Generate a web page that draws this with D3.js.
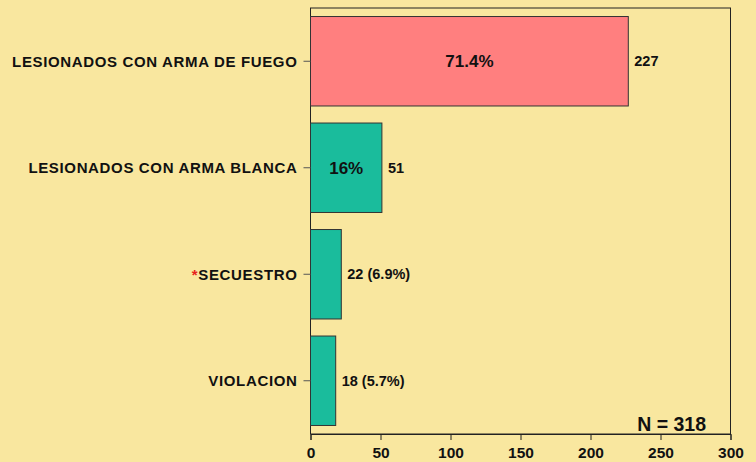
<!DOCTYPE html>
<html>
<head>
<meta charset="utf-8">
<script src="https://cdn.jsdelivr.net/npm/d3@7"></script>
<style>
  html, body { margin: 0; padding: 0; background: #F9E79F; }
  svg { display: block; }
  text { font-family: "Liberation Sans", Arial, sans-serif; font-weight: bold; fill: #111; }
</style>
</head>
<body>
<svg id="chart" width="756" height="462"></svg>
<script>
// Delitos registrados (N = 318)
const categories = ["LESIONADOS CON ARMA DE FUEGO", "LESIONADOS CON ARMA BLANCA", "SECUESTRO", "VIOLACION"];
const counts = [227, 51, 22, 18];
const percents = ["71.4%", "16%", "6.9%", "5.7%"];
const starred = [false, false, true, false];
const xTicks = [0, 50, 100, 150, 200, 250, 300];
const total = 318;

const svg = d3.select("#chart");
const margin = { left: 310.5, right: 25.5, top: 8, bottom: 28 };
const W = 756, H = 462;

const x = d3.scaleLinear().domain([0, 300]).range([margin.left, W - margin.right]);
const y = d3.scaleBand().domain(categories).range([margin.top, H - margin.bottom])
  .paddingInner(0.16).paddingOuter(0.08);

// Plot frame
svg.append("rect")
  .attr("x", x(0)).attr("y", margin.top)
  .attr("width", x(300) - x(0)).attr("height", H - margin.bottom - margin.top)
  .attr("fill", "none").attr("stroke", "#222").attr("stroke-width", 1);

// Bars
svg.selectAll("rect.bar").data(categories).join("rect")
  .attr("class", "bar")
  .attr("x", x(0))
  .attr("y", d => y(d))
  .attr("width", (d, i) => x(counts[i]) - x(0))
  .attr("height", y.bandwidth())
  .attr("fill", (d, i) => i === 0 ? "#FF7F7F" : "#1ABC9C")
  .attr("stroke", "#333").attr("stroke-width", 1);

// Bottom axis
const xAxis = svg.append("g")
  .attr("transform", `translate(0,${H - margin.bottom})`)
  .call(d3.axisBottom(x).tickValues(xTicks).tickSize(6).tickPadding(7));
xAxis.select(".domain").attr("stroke", "#222");
xAxis.selectAll(".tick line").attr("stroke", "#222");
xAxis.selectAll(".tick text")
  .style("font-size", "15.5px")
  .style("font-family", "Liberation Sans, Arial, sans-serif")
  .style("font-weight", "bold")
  .attr("fill", "#111");

// Left axis: ticks only, labels drawn separately
const yAxis = svg.append("g")
  .attr("transform", `translate(${x(0)},0)`)
  .call(d3.axisLeft(y).tickSize(7).tickFormat(""));
yAxis.select(".domain").remove();
yAxis.selectAll(".tick line").attr("stroke", "#555");

const labels = svg.selectAll("text.cat").data(categories).join("text")
  .attr("class", "cat")
  .attr("x", x(0) - 13)
  .attr("y", d => y(d) + y.bandwidth() / 2)
  .attr("dy", "0.36em")
  .attr("text-anchor", "end")
  .style("font-size", "15px")
  .style("letter-spacing", "0.65px");
labels.each(function(d, i) {
  const t = d3.select(this);
  if (starred[i]) t.append("tspan").style("fill", "#E8231B").text("*");
  t.append("tspan").text(d);
});

// Percent labels inside the two largest bars
[0, 1].forEach(i => {
  svg.append("text")
    .attr("x", (x(0) + x(counts[i])) / 2)
    .attr("y", y(categories[i]) + y.bandwidth() / 2)
    .attr("dy", "0.36em")
    .attr("text-anchor", "middle")
    .style("font-size", "17px")
    .text(percents[i]);
});

// Counts at bar ends (with percentage for the small bars)
svg.selectAll("text.val").data(categories).join("text")
  .attr("class", "val")
  .attr("x", (d, i) => x(counts[i]) + 6)
  .attr("y", d => y(d) + y.bandwidth() / 2)
  .attr("dy", "0.36em")
  .style("font-size", "14.5px")
  .text((d, i) => i < 2 ? `${counts[i]}` : `${counts[i]} (${percents[i]})`);

// Sample size
svg.append("text")
  .attr("x", x(300) - 24.5)
  .attr("y", H - margin.bottom - 3)
  .attr("text-anchor", "end")
  .style("font-size", "19.5px")
  .text(`N = ${total}`);
</script>
</body>
</html>
